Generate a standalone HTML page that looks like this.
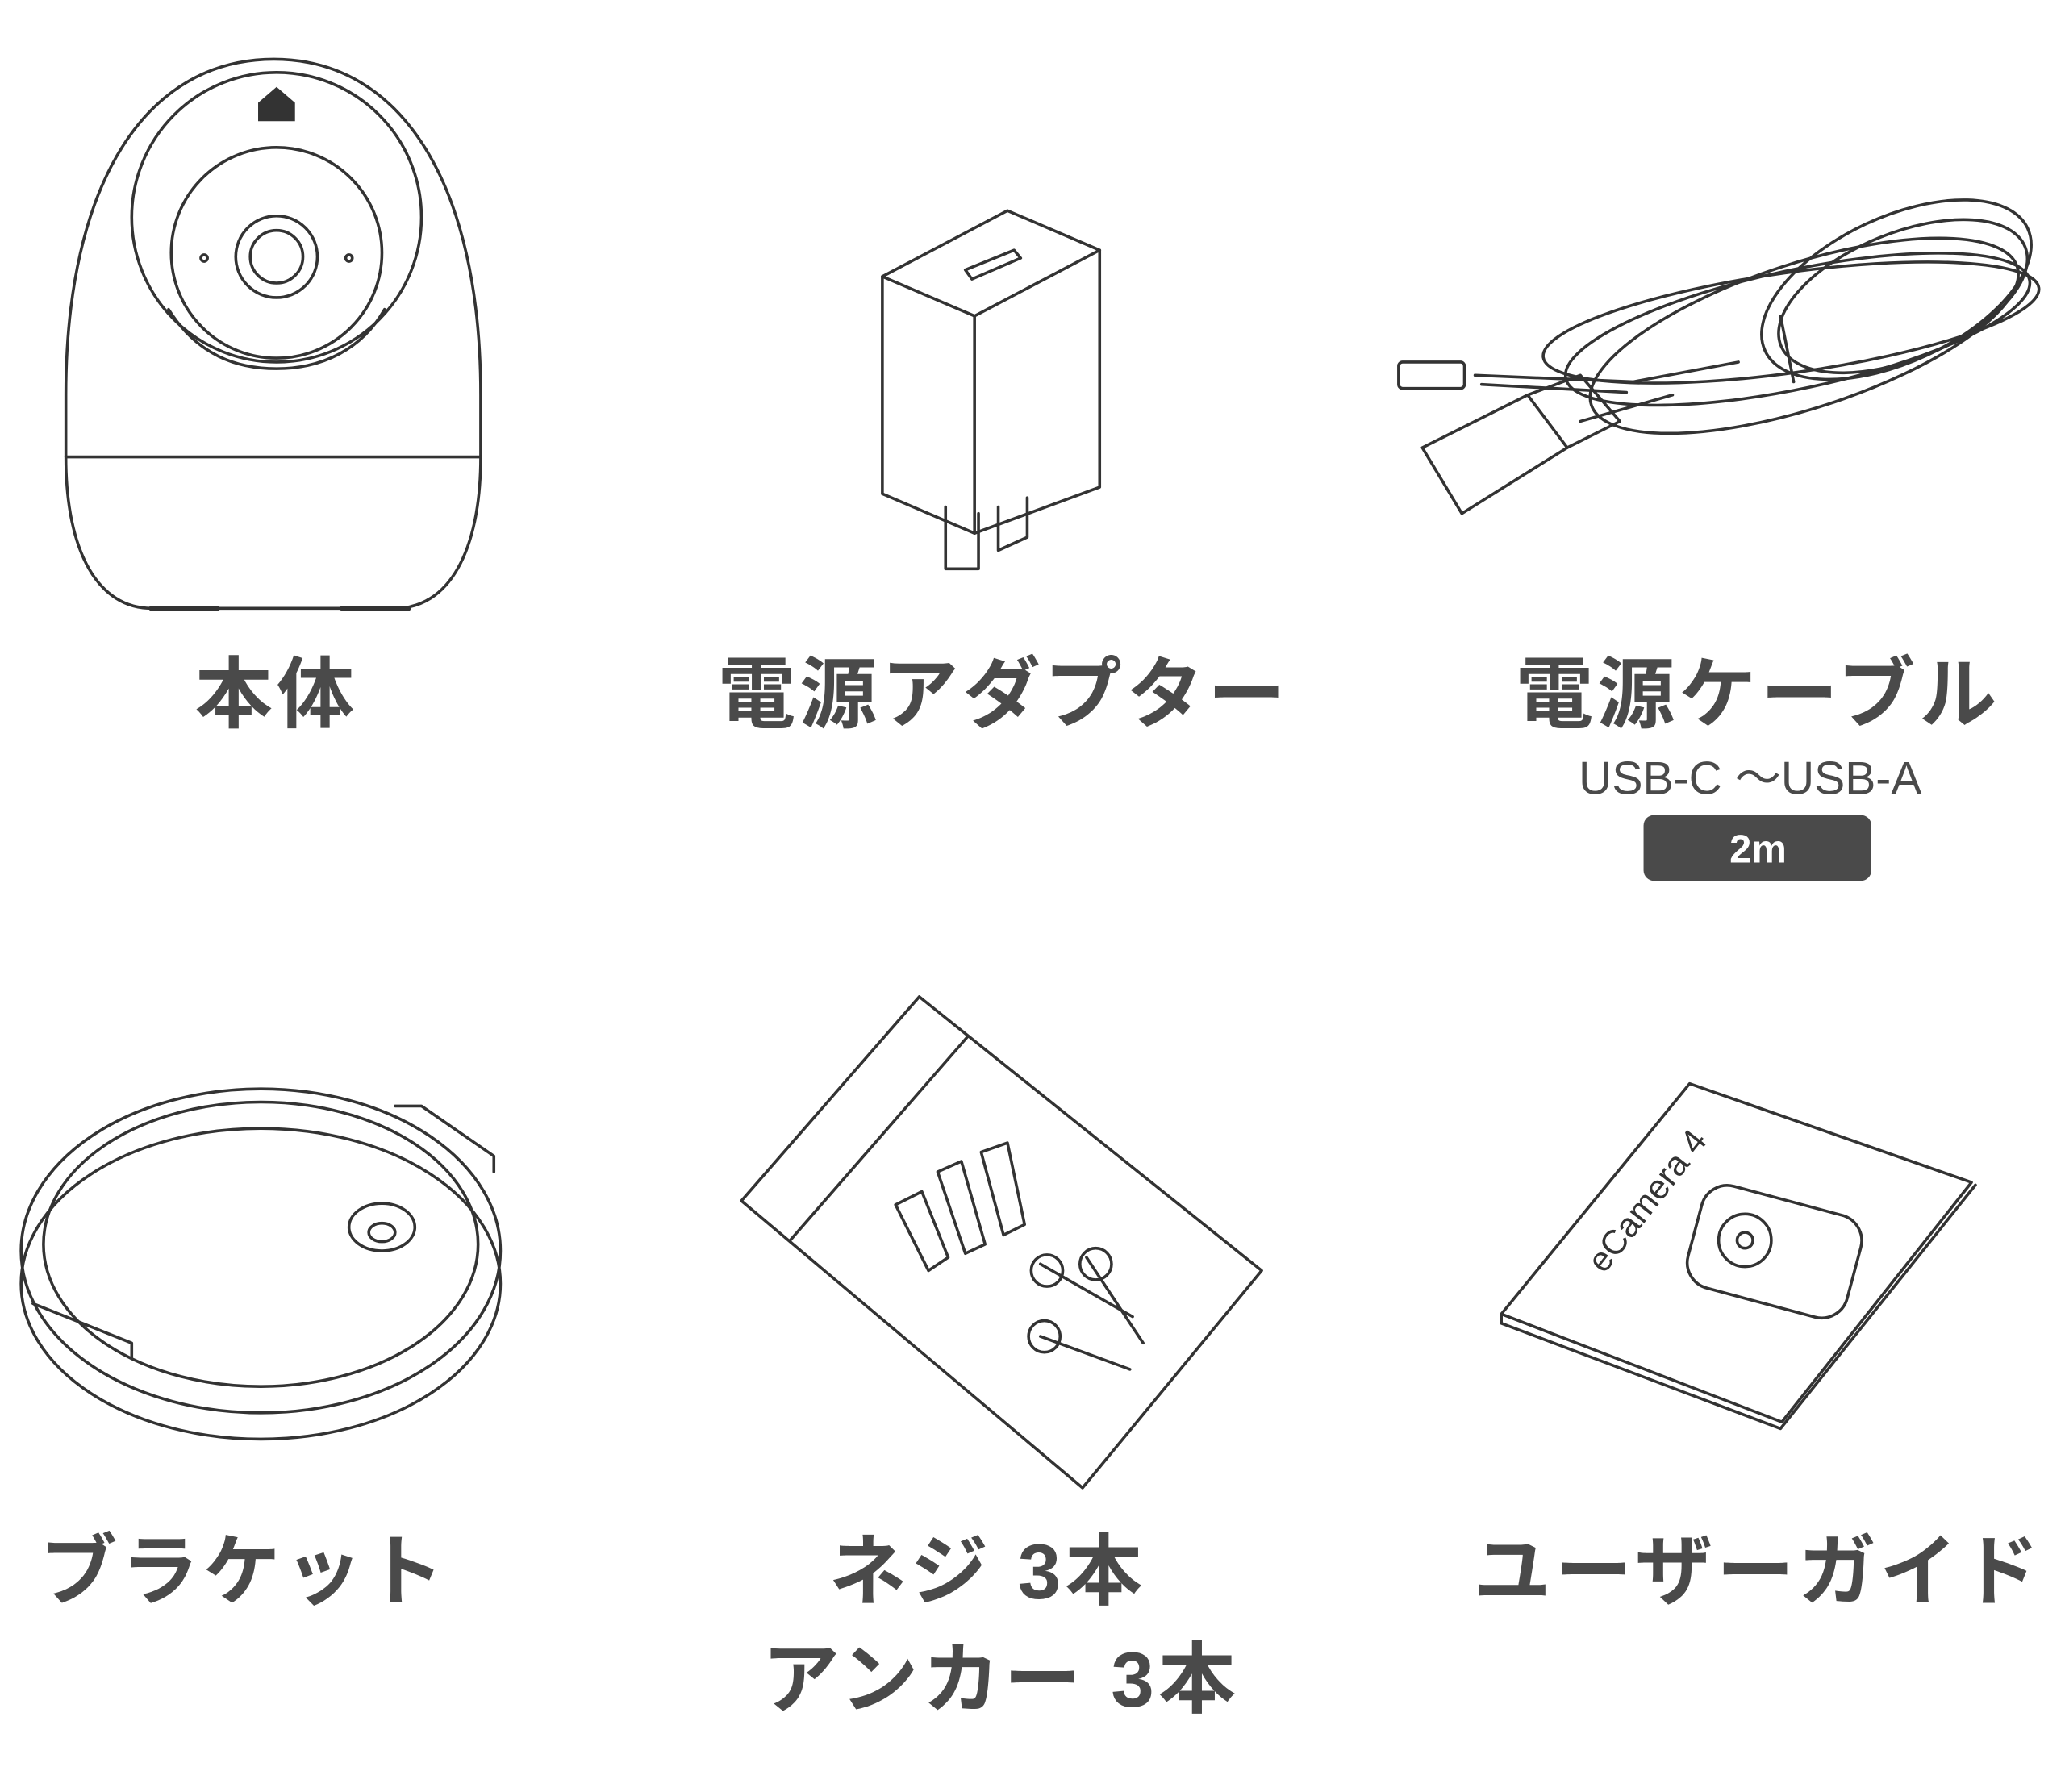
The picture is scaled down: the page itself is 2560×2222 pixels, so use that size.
<!DOCTYPE html>
<html><head><meta charset="utf-8"><style>
html,body{margin:0;padding:0;background:#fff;}
svg{display:block;}
.l{font-family:"Liberation Sans","Noto Sans CJK JP",sans-serif;font-weight:bold;fill:#4a4a4a;font-size:59px;letter-spacing:3px;text-anchor:middle;}
.s{font-family:"Liberation Sans","Noto Sans CJK JP",sans-serif;fill:#4a4a4a;font-size:35px;text-anchor:middle;}
.d{fill:none;stroke:#333;stroke-width:2.2;stroke-linejoin:round;stroke-linecap:round;}
</style></head><body>
<svg width="2560" height="2222" viewBox="0 0 1568 1361" xmlns="http://www.w3.org/2000/svg">
<rect width="1568" height="1361" fill="#fff"/>
<!-- camera -->
<g class="d">
<path d="M50 347 L50 300 C50 140 110 45 208 45 C305 45 365 140 365 300 L365 347 C365 420 340 462 300 462 L115 462 C75 462 50 420 50 347 Z"/>
<line x1="50" y1="347" x2="365" y2="347"/>
<circle cx="210" cy="165" r="110"/>
<path d="M128 235 C150 270 180 280 210 280 C245 280 275 265 292 235"/>
<circle cx="210" cy="192" r="80"/>
<circle cx="210" cy="195" r="31"/>
<circle cx="210" cy="195" r="20"/>
<circle cx="155" cy="196" r="2.5"/>
<circle cx="265" cy="196" r="2.5"/>
<line x1="115" y1="462" x2="165" y2="462" stroke-width="4"/>
<line x1="260" y1="462" x2="310" y2="462" stroke-width="4"/>
</g>
<path d="M196 78 L210 66 L224 78 L224 92 L196 92 Z" fill="#333"/>
<!-- adapter -->
<g class="d">
<path d="M670 210 L765 160 L835 190 L835 370 L740 405 L670 375 Z"/>
<path d="M670 210 L740 240 L835 190"/>
<line x1="740" y1="240" x2="740" y2="405"/>
<path d="M733 205 L770 190 L775 196 L738 212 Z"/>
<path d="M718 385 L718 432 L743 432 L743 390"/>
<path d="M758 385 L758 418 L780 408 L780 378"/>
</g>
<!-- cable -->
<g class="d">
<ellipse cx="1365" cy="250" rx="180" ry="45" transform="rotate(-12 1365 250)"/>
<ellipse cx="1370" cy="255" rx="170" ry="55" transform="rotate(-18 1370 255)"/>
<ellipse cx="1360" cy="245" rx="190" ry="38" transform="rotate(-8 1360 245)"/>
<ellipse cx="1440" cy="220" rx="110" ry="55" transform="rotate(-25 1440 220)"/>
<ellipse cx="1445" cy="225" rx="100" ry="48" transform="rotate(-22 1445 225)"/>
<path d="M1120 285 L1240 290 L1320 275"/>
<path d="M1125 292 L1235 298"/>
<rect x="1062" y="275" width="50" height="20" rx="3"/>
<path d="M1080 340 L1160 300 L1190 340 L1110 390 Z"/>
<path d="M1160 300 L1200 285 L1230 320 L1190 340"/>
<path d="M1200 320 L1270 300"/>
<line x1="1352" y1="240" x2="1362" y2="290"/>
</g>
<!-- bracket -->
<g class="d">
<ellipse cx="198" cy="950" rx="182" ry="123"/>
<ellipse cx="198" cy="945" rx="165" ry="108"/>
<ellipse cx="198" cy="975" rx="182" ry="118"/>
<path d="M300 840 L320 840 L375 878 L375 890"/>
<path d="M25 990 L100 1020 L100 1032"/>
<ellipse cx="290" cy="932" rx="25" ry="18"/>
<ellipse cx="290" cy="936" rx="10" ry="7"/>
</g>
<!-- bag -->
<g class="d">
<path d="M698 757 L958 965 L822 1130 L563 912 Z"/>
<line x1="735" y1="787" x2="600" y2="942"/>
<path d="M680 915 L700 905 L720 955 L705 965 Z"/>
<path d="M712 890 L730 882 L748 945 L733 952 Z"/>
<path d="M745 875 L765 868 L778 930 L762 938 Z"/>
<path d="M790 960 L860 1000"/>
<path d="M825 955 L868 1020"/>
<path d="M790 1015 L858 1040"/>
<circle cx="795" cy="965" r="12"/>
<circle cx="832" cy="960" r="12"/>
<circle cx="793" cy="1015" r="12"/>
</g>
<!-- guide -->
<g class="d">
<path d="M1283 823 L1497 898 L1353 1080 L1140 998 Z"/>
<path d="M1140 998 L1140 1005 L1352 1085 L1500 900"/>
<rect x="1285" y="910" width="125" height="80" rx="20" transform="rotate(15 1345 950)"/>
<circle cx="1325" cy="942" r="20"/>
<circle cx="1325" cy="942" r="6"/>
</g>
<text x="1218" y="968" transform="rotate(-52 1218 968)" font-family="Liberation Sans,sans-serif" font-size="26" fill="#333">eCamera 4</text>
<!-- labels -->
<text class="l" x="210" y="548">本体</text>
<text class="l" x="762" y="548">電源アダプター</text>
<text class="l" x="1335" y="548">電源ケーブル</text>
<text class="s" x="1329" y="603">USB-C ～USB-A</text>
<rect x="1248" y="619" width="173" height="50" rx="8" fill="#4a4a4a"/>
<text x="1335" y="655" font-family="Liberation Sans,sans-serif" font-weight="bold" font-size="30" fill="#fff" text-anchor="middle">2m</text>
<text class="l" x="185" y="1214">ブラケット</text>
<text class="l" x="750" y="1214">ネジ 3本</text>
<text class="l" x="760" y="1296">アンカー 3本</text>
<text class="l" x="1335" y="1214">ユーザーガイド</text>
</svg>
</body></html>
